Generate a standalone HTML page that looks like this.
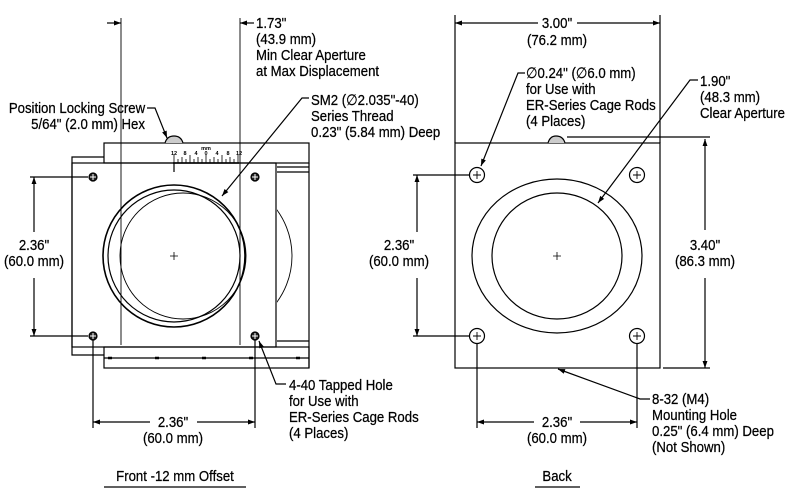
<!DOCTYPE html>
<html><head><meta charset="utf-8"><style>
html,body{margin:0;padding:0;background:#fff}
svg{display:block}
text{font-family:"Liberation Sans Narrow","Liberation Sans",sans-serif;font-size:15px;fill:#000;stroke:#000;stroke-width:0.25;transform-box:fill-box;transform-origin:left center;transform:scaleX(0.88)}
text[text-anchor="middle"]{transform-origin:center center}
text[text-anchor="end"]{transform-origin:right center}
text.s{font-size:5.5px;font-weight:bold;stroke:none;transform:none}
</style></head><body>
<svg width="803" height="500" viewBox="0 0 803 500" xmlns="http://www.w3.org/2000/svg">
<defs>
<marker id="a" viewBox="0 0 10 10" refX="10" refY="5" markerWidth="10" markerHeight="7" orient="auto-start-reverse" markerUnits="userSpaceOnUse"><path d="M0,1.5 L10,5 L0,8.5 z" fill="#000"/></marker>
<clipPath id="rc"><rect x="277" y="165" width="40" height="180"/></clipPath>
</defs>
<g stroke="#000" fill="none" stroke-width="1.2">
<rect x="104" y="143" width="205" height="20"/>
<path d="M104,157 H72 V355 H104"/>
<rect x="72" y="163" width="204" height="184"/>
<path d="M309,163 V368 M277,167 H309 M277,172 H309 M277,341 H309"/>
<rect x="104" y="347" width="205" height="21"/>
<line x1="104" y1="358" x2="309" y2="358"/>
<g stroke-width="2.5"><path d="M108,358h4M155,358h4M202,358h4M249,358h4M296,358h4"/></g>
<path d="M165,143 Q167,136 174,136 Q181,136 183,143" fill="#ccc"/>
<line x1="173" y1="163" x2="239" y2="163" stroke-width="1.5"/>
<line x1="174" y1="163" x2="174" y2="172"/>
<g stroke-width="0.8">
<path d="M174,155V163 M178,159V163 M182,157V163 M186,159V163 M190,155V163 M194,159V163 M198,157V163 M202,159V163 M206,155V163 M210,159V163 M214,157V163 M218,159V163 M222,155V163 M226,159V163 M230,157V163 M234,159V163 M238,155V163"/>
</g>
<circle cx="174" cy="256" r="71" stroke-width="1.6"/>
<circle cx="174" cy="256" r="66"/>
<circle cx="183" cy="256" r="63" stroke-width="0.9"/>
<circle cx="214" cy="256" r="78" clip-path="url(#rc)" stroke-width="0.9"/>
<path d="M170,256h8M174,252v8" stroke-width="0.8"/>
<g fill="#222"><circle cx="93" cy="177" r="4"/><circle cx="255" cy="177" r="4"/><circle cx="93" cy="336" r="4"/><circle cx="255" cy="336" r="4"/></g>
<g stroke="#fff" stroke-width="1"><path d="M90,177h6M93,174v6M252,177h6M255,174v6M90,336h6M93,333v6M252,336h6M255,333v6"/></g>
<path d="M121,18 V345 M240,18 V345" stroke-width="0.9"/>
<line x1="107" y1="23" x2="121" y2="23" marker-end="url(#a)"/>
<line x1="254" y1="23" x2="240" y2="23" marker-end="url(#a)"/>
<path d="M30,177 H88 M30,336 H88"/>
<line x1="34" y1="232" x2="34" y2="177" marker-end="url(#a)"/>
<line x1="34" y1="278" x2="34" y2="336" marker-end="url(#a)"/>
<path d="M93,340 V428 M255,340 V428"/>
<line x1="150" y1="422" x2="93" y2="422" marker-end="url(#a)"/>
<line x1="197" y1="422" x2="255" y2="422" marker-end="url(#a)"/>
<path d="M147,108 H155 L167,138" marker-end="url(#a)"/>
<path d="M309,98 H302 L222,196" marker-end="url(#a)"/>
<path d="M286,384 H276 L259,341" marker-end="url(#a)"/>
<line x1="104" y1="487" x2="246" y2="487"/>
<rect x="455" y="143" width="205" height="225"/>
<path d="M548,143 Q550,136 556,136 Q563,136 565,143" fill="#ccc"/>
<path d="M567,137 H710 M663,368 H710"/>
<line x1="705" y1="230" x2="705" y2="139" marker-end="url(#a)"/>
<line x1="705" y1="278" x2="705" y2="368" marker-end="url(#a)"/>
<path d="M455,15 V143 M660,15 V143"/>
<line x1="538" y1="23" x2="455" y2="23" marker-end="url(#a)"/>
<line x1="577" y1="23" x2="660" y2="23" marker-end="url(#a)"/>
<ellipse cx="557" cy="256" rx="85" ry="77"/>
<ellipse cx="557" cy="256" rx="65" ry="63"/>
<path d="M553,256h8M557,252v8" stroke-width="0.8"/>
<g><circle cx="477" cy="175" r="7.5"/><circle cx="637" cy="175" r="7.5"/><circle cx="477" cy="336" r="7.5"/><circle cx="637" cy="336" r="7.5"/></g>
<g stroke-width="0.9"><path d="M473,175h8M477,171v8M633,175h8M637,171v8M473,336h8M477,332v8M633,336h8M637,332v8"/></g>
<path d="M413,175 H469 M413,336 H469"/>
<line x1="417" y1="232" x2="417" y2="175" marker-end="url(#a)"/>
<line x1="417" y1="278" x2="417" y2="336" marker-end="url(#a)"/>
<path d="M477,344 V428 M637,344 V428"/>
<line x1="534" y1="422" x2="477" y2="422" marker-end="url(#a)"/>
<line x1="580" y1="422" x2="637" y2="422" marker-end="url(#a)"/>
<path d="M525,73 H518 L481,166" marker-end="url(#a)"/>
<path d="M698,80 H690 L598,203" marker-end="url(#a)"/>
<path d="M650,399 H640 L558,369" marker-end="url(#a)"/>
<line x1="535" y1="487" x2="580" y2="487"/>
</g>
<text x="256" y="28">1.73"</text>
<text x="256" y="44">(43.9 mm)</text>
<text x="256" y="60">Min Clear Aperture</text>
<text x="256" y="76">at Max Displacement</text>
<text x="145" y="113" text-anchor="end">Position Locking Screw</text>
<text x="145" y="129" text-anchor="end">5/64" (2.0 mm) Hex</text>
<text x="311" y="105">SM2 (∅2.035"-40)</text>
<text x="311" y="121">Series Thread</text>
<text x="311" y="137">0.23" (5.84 mm) Deep</text>
<text x="34" y="250" text-anchor="middle">2.36"</text>
<text x="34" y="266" text-anchor="middle">(60.0 mm)</text>
<text x="173" y="427" text-anchor="middle">2.36"</text>
<text x="173" y="443" text-anchor="middle">(60.0 mm)</text>
<text x="289" y="390">4-40 Tapped Hole</text>
<text x="289" y="406">for Use with</text>
<text x="289" y="422">ER-Series Cage Rods</text>
<text x="289" y="438">(4 Places)</text>
<text x="175" y="481" text-anchor="middle">Front -12 mm Offset</text>
<text class="s" x="206" y="150" text-anchor="middle">mm</text>
<text class="s" x="174" y="155" text-anchor="middle">12</text><text class="s" x="185" y="155" text-anchor="middle">8</text><text class="s" x="196" y="155" text-anchor="middle">4</text><text class="s" x="206" y="155" text-anchor="middle">0</text><text class="s" x="217" y="155" text-anchor="middle">4</text><text class="s" x="228" y="155" text-anchor="middle">8</text><text class="s" x="239" y="155" text-anchor="middle">12</text>
<text x="557" y="28" text-anchor="middle">3.00"</text>
<text x="557" y="45" text-anchor="middle">(76.2 mm)</text>
<text x="526" y="78">∅0.24" (∅6.0 mm)</text>
<text x="526" y="94">for Use with</text>
<text x="526" y="110">ER-Series Cage Rods</text>
<text x="526" y="126">(4 Places)</text>
<text x="700" y="86">1.90"</text>
<text x="700" y="102">(48.3 mm)</text>
<text x="700" y="118">Clear Aperture</text>
<text x="705" y="250" text-anchor="middle">3.40"</text>
<text x="705" y="266" text-anchor="middle">(86.3 mm)</text>
<text x="399" y="250" text-anchor="middle">2.36"</text>
<text x="399" y="266" text-anchor="middle">(60.0 mm)</text>
<text x="557" y="427" text-anchor="middle">2.36"</text>
<text x="557" y="443" text-anchor="middle">(60.0 mm)</text>
<text x="652" y="404">8-32 (M4)</text>
<text x="652" y="420">Mounting Hole</text>
<text x="652" y="436">0.25" (6.4 mm) Deep</text>
<text x="652" y="452">(Not Shown)</text>
<text x="557" y="481" text-anchor="middle">Back</text>
</svg>
</body></html>
